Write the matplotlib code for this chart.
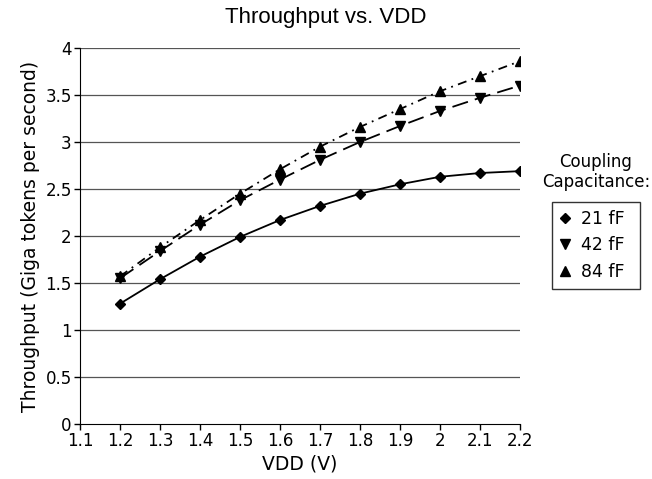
import matplotlib
matplotlib.use('Agg')
import matplotlib.pyplot as plt

vdd = [1.2, 1.3, 1.4, 1.5, 1.6, 1.7, 1.8, 1.9, 2.0, 2.1, 2.2]
tp_21 = [1.28, 1.54, 1.78, 1.99, 2.17, 2.32, 2.45, 2.55, 2.63, 2.67, 2.69]
tp_42 = [1.55, 1.84, 2.12, 2.38, 2.60, 2.81, 3.00, 3.17, 3.33, 3.47, 3.60]
tp_84 = [1.57, 1.88, 2.17, 2.45, 2.71, 2.95, 3.16, 3.35, 3.54, 3.70, 3.86]
labels = ['21 fF', '42 fF', '84 fF']

plt.rcParams['font.family'] = 'DejaVu Sans'
fig = plt.figure(figsize=(6.52, 4.79), dpi=100)
ax = fig.add_axes([80/652, 1 - 424/479, 440/652, 376/479])

for y in [0.5, 1, 1.5, 2, 2.5, 3, 3.5, 4]:
    ax.axhline(y, color='#555555', lw=0.9, zorder=0)

ax.plot(vdd, tp_21, color='black', lw=1.3, ls='-', marker='D', ms=5.5, label=labels[0])
ax.plot(vdd, tp_42, color='black', lw=1.3, ls=(0, (9, 4)), marker='v', ms=7, label=labels[1])
ax.plot(vdd, tp_84, color='black', lw=1.3, ls=(0, (5, 3, 1, 3)), marker='^', ms=7, label=labels[2])

ax.set_xlim(1.1, 2.2)
ax.set_ylim(0, 4)
ax.set_xticks([1.1, 1.2, 1.3, 1.4, 1.5, 1.6, 1.7, 1.8, 1.9, 2.0, 2.1, 2.2])
ax.set_xticklabels(['1.1', '1.2', '1.3', '1.4', '1.5', '1.6', '1.7', '1.8', '1.9', '2', '2.1', '2.2'])
ax.set_yticks([0, 0.5, 1, 1.5, 2, 2.5, 3, 3.5, 4])
ax.set_yticklabels(['0', '0.5', '1', '1.5', '2', '2.5', '3', '3.5', '4'])
ax.tick_params(labelsize=12, length=4, width=1, pad=2)
ax.spines['top'].set_visible(False)
ax.spines['right'].set_visible(False)

fig.text(0.5, 1 - 17/479, 'Throughput vs. VDD', ha='center', va='center', fontsize=16, family='Liberation Sans')
ax.set_xlabel('VDD (V)', fontsize=13.5, labelpad=3)
ax.set_ylabel('Throughput (Giga tokens per second)', fontsize=13.5, labelpad=4)

fig.text(596/652, 1 - 172/479, 'Coupling\nCapacitance:', ha='center', va='center', fontsize=12, linespacing=1.1)
leg_handles = [plt.Line2D([], [], color='black', ls='none', marker=m, ms=s) for m, s in [('D', 5.5), ('v', 7), ('^', 7)]]
leg = fig.legend(leg_handles, labels, loc='upper left', mode='expand',
                 bbox_to_anchor=(552/652, 1 - 290/479, 88/652, 88/479),
                 fontsize=12.5, frameon=True, fancybox=False, edgecolor='black', handlelength=0.6,
                 handletextpad=0.6, borderpad=0.45, labelspacing=0.5, borderaxespad=0)
leg.get_frame().set_linewidth(1)

fig.savefig('out.png', dpi=100)
